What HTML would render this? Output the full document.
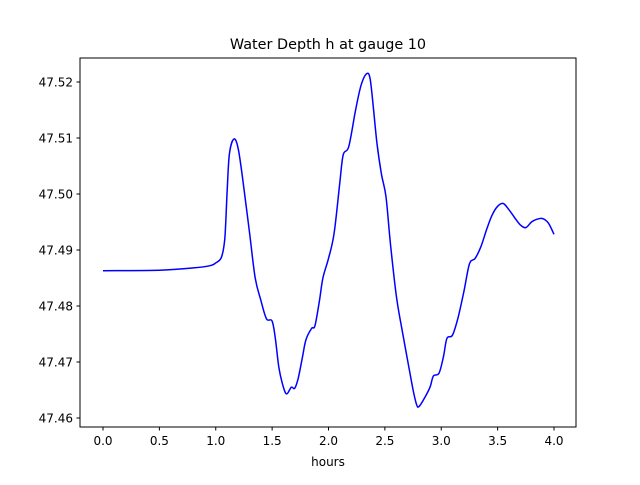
<!DOCTYPE html>
<html><head><meta charset="utf-8"><style>
body{margin:0;background:#fff;}
svg text{font-family:"DejaVu Sans","Liberation Sans",sans-serif;}
</style></head><body>
<svg id="chart" width="640" height="480" xmlns="http://www.w3.org/2000/svg">
<rect width="640" height="480" fill="#fff"/>
<text x="328" y="49" text-anchor="middle" font-size="14.4">Water Depth h at gauge 10</text>
<text x="328" y="466" text-anchor="middle" font-size="12">hours</text>
<g id="ticks"></g>
<path id="line" fill="none" stroke="#0000ff" stroke-width="1.5"/>
<rect x="80" y="58" width="496" height="369" fill="none" stroke="#000" stroke-width="1"/>
</svg>
<script>
const times=[0,0.5,0.8,0.95,1.0,1.05,1.08,1.1,1.12,1.16,1.2,1.25,1.3,1.35,1.4,1.45,1.5,1.53,1.56,1.6,1.63,1.67,1.7,1.73,1.77,1.8,1.85,1.88,1.92,1.95,2.0,2.05,2.1,2.13,2.18,2.24,2.29,2.34,2.37,2.4,2.43,2.47,2.51,2.55,2.6,2.65,2.7,2.75,2.78,2.8,2.85,2.9,2.93,2.98,3.02,3.05,3.1,3.15,3.2,3.25,3.3,3.35,3.4,3.45,3.5,3.55,3.6,3.65,3.7,3.75,3.8,3.85,3.9,3.95,4.0];
const depths=[47.4863,47.4864,47.4868,47.4872,47.4877,47.4887,47.492,47.5,47.507,47.5098,47.508,47.501,47.493,47.485,47.481,47.4777,47.4773,47.474,47.469,47.4655,47.4643,47.4655,47.4653,47.467,47.471,47.474,47.476,47.4765,47.481,47.485,47.4885,47.493,47.502,47.507,47.5085,47.515,47.5195,47.5215,47.5205,47.515,47.509,47.5035,47.4995,47.491,47.482,47.476,47.4705,47.465,47.4625,47.462,47.4635,47.4655,47.4675,47.468,47.471,47.4742,47.4748,47.478,47.4825,47.4875,47.4885,47.4905,47.4935,47.4962,47.4978,47.4983,47.4972,47.4958,47.4945,47.494,47.495,47.4955,47.4956,47.4948,47.4928];
const xTicks=[0,0.5,1,1.5,2,2.5,3,3.5,4];
const xTickLabels=["0.0","0.5","1.0","1.5","2.0","2.5","3.0","3.5","4.0"];
const yTicks=[47.46,47.47,47.48,47.49,47.50,47.51,47.52];
const yTickLabels=["47.46","47.47","47.48","47.49","47.50","47.51","47.52"];
const NS="http://www.w3.org/2000/svg";
function xs(t){return 103+t*112.75;}
function ys(v){return 82+(47.52-v)*5600;}
const g=document.getElementById('ticks');
xTicks.forEach((t,i)=>{
 const l=document.createElementNS(NS,'line');
 l.setAttribute('x1',xs(t));l.setAttribute('x2',xs(t));l.setAttribute('y1',427);l.setAttribute('y2',430.5);l.setAttribute('stroke','#000');
 
 
 g.appendChild(l);
 const tx=document.createElementNS(NS,'text');
 tx.setAttribute('x',xs(t));tx.setAttribute('y',445);tx.setAttribute('text-anchor','middle');tx.setAttribute('font-size','12');
 tx.textContent=xTickLabels[i];
 
 
 g.appendChild(tx);
});
yTicks.forEach((v,i)=>{
 const l=document.createElementNS(NS,'line');
 l.setAttribute('x1',76.5);l.setAttribute('x2',80);l.setAttribute('y1',ys(v));l.setAttribute('y2',ys(v));l.setAttribute('stroke','#000');
 
 
 g.appendChild(l);
 const tx=document.createElementNS(NS,'text');
 tx.setAttribute('x',73);tx.setAttribute('y',ys(v)+4.5);tx.setAttribute('text-anchor','end');tx.setAttribute('font-size','12');
 tx.textContent=yTickLabels[i];
 
 
 g.appendChild(tx);
});
// smooth Catmull-Rom path
const P=times.map((t,i)=>[xs(t),ys(depths[i])]);
let d='M'+P[0][0].toFixed(1)+' '+P[0][1].toFixed(1);
for(let i=0;i<P.length-1;i++){
 const p0=P[Math.max(0,i-1)],p1=P[i],p2=P[i+1],p3=P[Math.min(P.length-1,i+2)];
 const c1=[p1[0]+(p2[0]-p0[0])/6,p1[1]+(p2[1]-p0[1])/6];
 const c2=[p2[0]-(p3[0]-p1[0])/6,p2[1]-(p3[1]-p1[1])/6];
 d+=' C'+c1[0].toFixed(1)+' '+c1[1].toFixed(1)+' '+c2[0].toFixed(1)+' '+c2[1].toFixed(1)+' '+p2[0].toFixed(1)+' '+p2[1].toFixed(1);
}
document.getElementById('line').setAttribute('d',d);
</script>
</body></html>
